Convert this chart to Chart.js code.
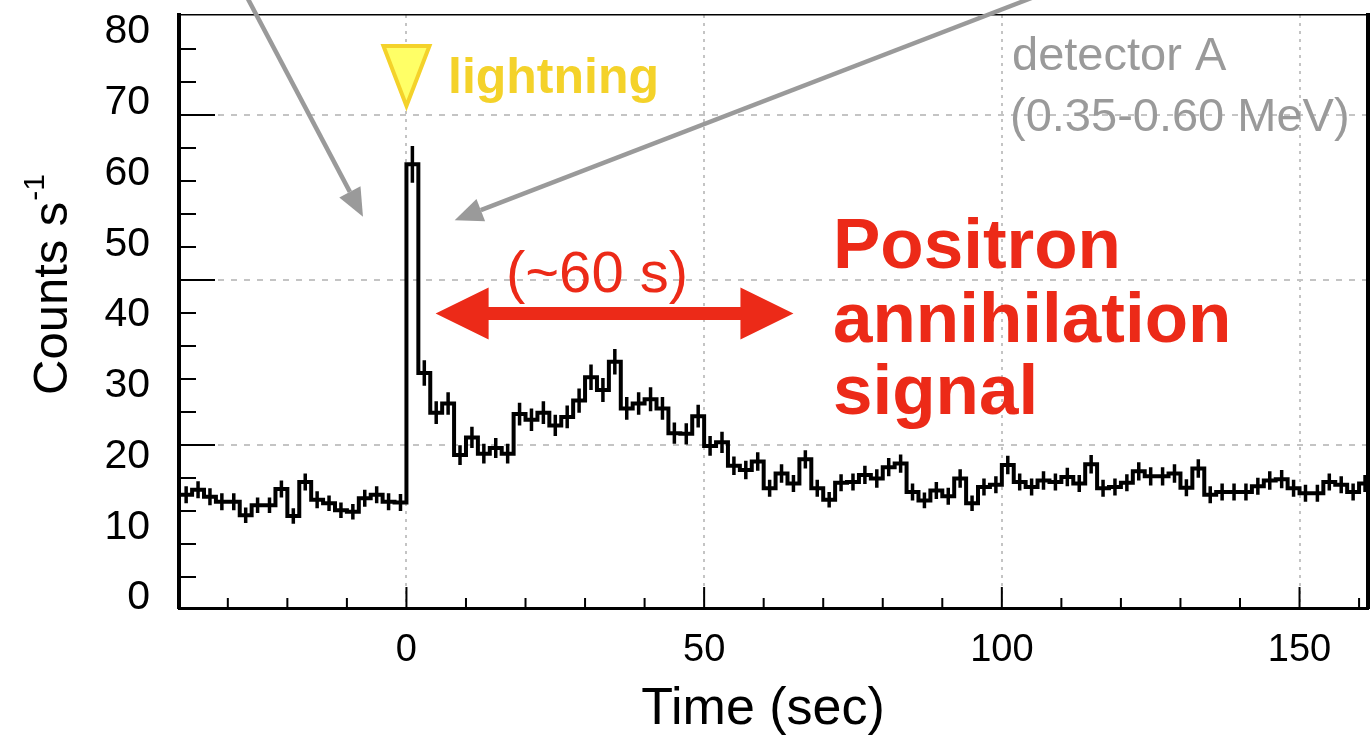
<!DOCTYPE html>
<html>
<head>
<meta charset="utf-8">
<script src="https://cdn.jsdelivr.net/npm/chart.js@4.4.1/dist/chart.umd.min.js"></script>
<style>
  html, body { margin: 0; padding: 0; background: #fff; }
</style>
</head>
<body>
<canvas id="c" width="1372" height="736"></canvas>
<script>
"use strict";

// left edge of each 2 s bin (sec)
var binEdges = [
  -38, -36, -34, -32, -30, -28, -26, -24, -22, -20, -18, -16, -14, -12, -10, -8, -6, -4, -2,
  0, 2, 4, 6, 8, 10, 12, 14, 16, 18, 20, 22, 24, 26, 28, 30, 32, 34, 36, 38,
  40, 42, 44, 46, 48, 50, 52, 54, 56, 58, 60, 62, 64, 66, 68, 70, 72, 74, 76, 78,
  80, 82, 84, 86, 88, 90, 92, 94, 96, 98, 100, 102, 104, 106, 108, 110, 112, 114, 116, 118,
  120, 122, 124, 126, 128, 130, 132, 134, 136, 138, 140, 142, 144, 146, 148, 150, 152, 154, 156, 158, 160
];
var binWidth = 2;

// count rate per bin (counts/s)
var rates = [
  14.6, 15.3, 14.3, 13.6, 13.6, 11.7, 13.1, 13.1, 15.4, 11.6, 16.4, 13.9, 13.4, 12.4, 12.2, 14.1, 14.6, 13.6, 13.5,
  61.3, 31.8, 26.2, 27.5, 20.2, 22.7, 20.4, 21.2, 20.4, 26.0, 25.2, 26.2, 24.4, 25.6, 27.9, 31.2, 29.4, 33.4, 26.8, 27.5,
  28.1, 26.8, 23.3, 23.2, 25.7, 21.5, 22.0, 18.7, 18.1, 19.3, 15.5, 17.6, 16.2, 19.6, 15.5, 13.9, 16.3, 16.4, 17.4, 16.9,
  18.5, 19.0, 15.0, 13.8, 15.2, 14.4, 16.9, 13.4, 15.7, 16.0, 18.8, 16.4, 15.7, 16.6, 16.4, 17.1, 16.2, 18.9, 15.5, 15.7,
  16.3, 17.9, 17.2, 17.2, 17.6, 15.6, 18.3, 14.6, 15.0, 15.0, 15.0, 15.8, 16.6, 16.8, 15.5, 14.8, 14.8, 16.4, 16.0, 15.0, 16.2
];

// half length of each error bar (counts/s)
var errors = [
  1.2, 1.2, 1.2, 1.2, 1.2, 1.1, 1.1, 1.1, 1.2, 1.1, 1.2, 1.2, 1.1, 1.1, 1.1, 1.2, 1.2, 1.2, 1.2,
  2.6, 1.8, 1.6, 1.6, 1.4, 1.5, 1.4, 1.4, 1.4, 1.6, 1.6, 1.6, 1.5, 1.6, 1.7, 1.8, 1.7, 1.8, 1.6, 1.6,
  1.7, 1.6, 1.5, 1.5, 1.6, 1.4, 1.5, 1.3, 1.3, 1.3, 1.2, 1.3, 1.2, 1.3, 1.2, 1.1, 1.2, 1.2, 1.3, 1.3,
  1.3, 1.3, 1.2, 1.1, 1.2, 1.2, 1.3, 1.1, 1.2, 1.2, 1.3, 1.2, 1.2, 1.3, 1.2, 1.3, 1.2, 1.3, 1.2, 1.2,
  1.2, 1.3, 1.3, 1.3, 1.3, 1.2, 1.3, 1.2, 1.2, 1.2, 1.2, 1.2, 1.3, 1.3, 1.2, 1.2, 1.2, 1.2, 1.2, 1.2, 1.2
];

var xTickValues = [0, 50, 100, 150];
var yTickValues = [0, 10, 20, 30, 40, 50, 60, 70, 80];
var gridTickValues = [5, 10, 15];

var FONT = "'Liberation Sans', Arial, Helvetica, sans-serif";
var RED = "#ec2a18";
var GRAY = "#9a9a9a";
var YELLOW = "#f4d22a";

var histPoints = binEdges.map(function(e, i) { return {x: e, y: rates[i]}; });
histPoints.push({x: binEdges[binEdges.length - 1] + binWidth, y: rates[rates.length - 1]});

var errPoints = [];
binEdges.forEach(function(e, i) {
  var c = e + binWidth / 2;
  errPoints.push({x: c, y: rates[i] - errors[i]});
  errPoints.push({x: c, y: rates[i] + errors[i]});
  errPoints.push({x: c, y: null});
});

function drawArrow(ctx, x1, y1, x2, y2, headLen, headHalf, width, color) {
  var ang = Math.atan2(y2 - y1, x2 - x1);
  var bx = x2 - headLen * Math.cos(ang), by = y2 - headLen * Math.sin(ang);
  ctx.strokeStyle = color;
  ctx.fillStyle = color;
  ctx.lineWidth = width;
  ctx.beginPath();
  ctx.moveTo(x1, y1);
  ctx.lineTo(bx, by);
  ctx.stroke();
  ctx.beginPath();
  ctx.moveTo(x2, y2);
  ctx.lineTo(bx + headHalf * Math.sin(ang), by - headHalf * Math.cos(ang));
  ctx.lineTo(bx - headHalf * Math.sin(ang), by + headHalf * Math.cos(ang));
  ctx.closePath();
  ctx.fill();
}

// ROOT style ticks drawn inside the frame
var frameTicks = {
  id: "frameTicks",
  afterDatasetsDraw: function(chart) {
    var ctx = chart.ctx, a = chart.chartArea;
    var sx = chart.scales.x, sg = chart.scales.yGrid;
    ctx.save();
    ctx.strokeStyle = "#000";
    ctx.lineWidth = 2;
    ctx.beginPath();
    for (var t = -30; t <= 160; t += 10) {
      var px = sx.getPixelForValue(t);
      var len = (t % 50 === 0) ? 21 : 10;
      ctx.moveTo(px, a.bottom);
      ctx.lineTo(px, a.bottom - len);
    }
    for (var k = 1; k <= 17; k++) {
      var py = sg.getPixelForValue(k);
      var l2 = (k % 5 === 0) ? 36 : 17;
      ctx.moveTo(a.left, py);
      ctx.lineTo(a.left + l2, py);
    }
    ctx.stroke();
    ctx.restore();
  }
};

var annotations = {
  id: "annotations",
  afterDraw: function(chart) {
    var ctx = chart.ctx;
    var sx = chart.scales.x, sy = chart.scales.y;
    function X(v) { return sx.getPixelForValue(v); }
    function Y(v) { return sy.getPixelForValue(v); }
    ctx.save();

    // axis titles
    ctx.fillStyle = "#000";
    ctx.textBaseline = "alphabetic";
    ctx.font = "52px " + FONT;
    ctx.textAlign = "center";
    ctx.fillText("Time (sec)", 763, 724);

    ctx.save();
    ctx.translate(67, 395);
    ctx.rotate(-Math.PI / 2);
    ctx.textAlign = "left";
    ctx.font = "49px " + FONT;
    ctx.fillText("Counts s", 0, 0);
    var w = ctx.measureText("Counts s").width;
    ctx.font = "30px " + FONT;
    ctx.fillText("-1", w + 1, -23);
    ctx.restore();

    // gray arrows
    drawArrow(ctx, X(-26.7), Y(84.8), X(-7.3), Y(53.9), 28, 12, 4.5, GRAY);
    drawArrow(ctx, X(105), Y(84.8), X(8.1), Y(53.4), 28, 12, 4.5, GRAY);

    // lightning marker
    var lx = X(0);
    ctx.beginPath();
    ctx.moveTo(lx - 23, 46);
    ctx.lineTo(lx + 23, 46);
    ctx.lineTo(lx, 106);
    ctx.closePath();
    ctx.fillStyle = "#ffff66";
    ctx.fill();
    ctx.lineWidth = 4;
    ctx.lineJoin = "miter";
    ctx.strokeStyle = YELLOW;
    ctx.stroke();
    ctx.fillStyle = YELLOW;
    ctx.textAlign = "left";
    ctx.font = "bold 50px " + FONT;
    ctx.fillText("lightning", 448, 93);

    // detector label
    ctx.fillStyle = GRAY;
    ctx.font = "47px " + FONT;
    ctx.fillText("detector A", 1012, 70);
    ctx.fillText("(0.35-0.60 MeV)", 1010, 131);

    // red double arrow
    var xa = X(4.9), xb = X(65), ym = Y(40.2);
    var hl = 53, hh = 26, sh = 6.5;
    ctx.fillStyle = RED;
    ctx.beginPath();
    ctx.moveTo(xa, ym);
    ctx.lineTo(xa + hl, ym - hh);
    ctx.lineTo(xa + hl, ym - sh);
    ctx.lineTo(xb - hl, ym - sh);
    ctx.lineTo(xb - hl, ym - hh);
    ctx.lineTo(xb, ym);
    ctx.lineTo(xb - hl, ym + hh);
    ctx.lineTo(xb - hl, ym + sh);
    ctx.lineTo(xa + hl, ym + sh);
    ctx.lineTo(xa + hl, ym + hh);
    ctx.closePath();
    ctx.fill();

    ctx.textAlign = "center";
    ctx.font = "58px " + FONT;
    ctx.fillText("(~60 s)", 597, 292);

    ctx.textAlign = "left";
    ctx.font = "bold 71px " + FONT;
    ctx.fillText("Positron", 833, 268);
    ctx.fillText("annihilation", 833, 342);
    ctx.fillText("signal", 833, 414);

    ctx.restore();
  }
};

new Chart(document.getElementById("c"), {
  type: "line",
  data: {
    datasets: [{
      label: "detector A",
      data: histPoints,
      xAxisID: "x",
      yAxisID: "y",
      stepped: true,
      borderColor: "#000",
      borderWidth: 4,
      pointRadius: 0,
      fill: false
    }, {
      label: "errors",
      data: errPoints,
      xAxisID: "x",
      yAxisID: "y",
      spanGaps: false,
      borderColor: "#000",
      borderWidth: 3.5,
      pointRadius: 0,
      fill: false
    }]
  },
  options: {
    responsive: false,
    animation: false,
    layout: { padding: { left: 0, right: 4, top: 15, bottom: 0 } },
    plugins: { legend: { display: false }, tooltip: { enabled: false } },
    scales: {
      x: {
        type: "linear",
        position: "bottom",
        min: -38.2,
        max: 161.5,
        afterBuildTicks: function(s) { s.ticks = xTickValues.map(function(v) { return {value: v}; }); },
        afterFit: function(s) { s.height = 128; s.paddingLeft = 0; s.paddingRight = 0; },
        ticks: { color: "#000", font: { family: FONT, size: 38 }, padding: 20, maxRotation: 0, autoSkip: false },
        grid: { color: "#c4c4c4", lineWidth: 2, drawTicks: false },
        border: { color: "#000", width: 3, dash: [3, 5] }
      },
      xTop: {
        type: "linear",
        position: "top",
        afterFit: function(s) { s.height = 0; s.paddingLeft = 0; s.paddingRight = 0; },
        ticks: { display: false },
        grid: { display: false, drawTicks: false },
        border: { color: "#000", width: 1.5 }
      },
      y: {
        type: "linear",
        position: "left",
        min: -1.41,
        max: 82.4,
        afterBuildTicks: function(s) { s.ticks = yTickValues.map(function(v) { return {value: v}; }); },
        afterFit: function(s) { s.width = 179; s.paddingTop = 0; s.paddingBottom = 0; },
        ticks: { color: "#000", font: { family: FONT, size: 41 }, padding: 29 },
        grid: { display: false, drawTicks: false },
        border: { color: "#000", width: 4 }
      },
      yGrid: {
        type: "linear",
        position: "right",
        min: 0.06,
        max: 18.03,
        afterBuildTicks: function(s) { s.ticks = gridTickValues.map(function(v) { return {value: v}; }); },
        afterFit: function(s) { s.width = 0; s.paddingTop = 0; s.paddingBottom = 0; },
        ticks: { display: false },
        grid: { color: "#c4c4c4", lineWidth: 2, drawTicks: false },
        border: { color: "#000", width: 4, dash: [6, 7] }
      }
    }
  },
  plugins: [frameTicks, annotations]
});
</script>
</body>
</html>
